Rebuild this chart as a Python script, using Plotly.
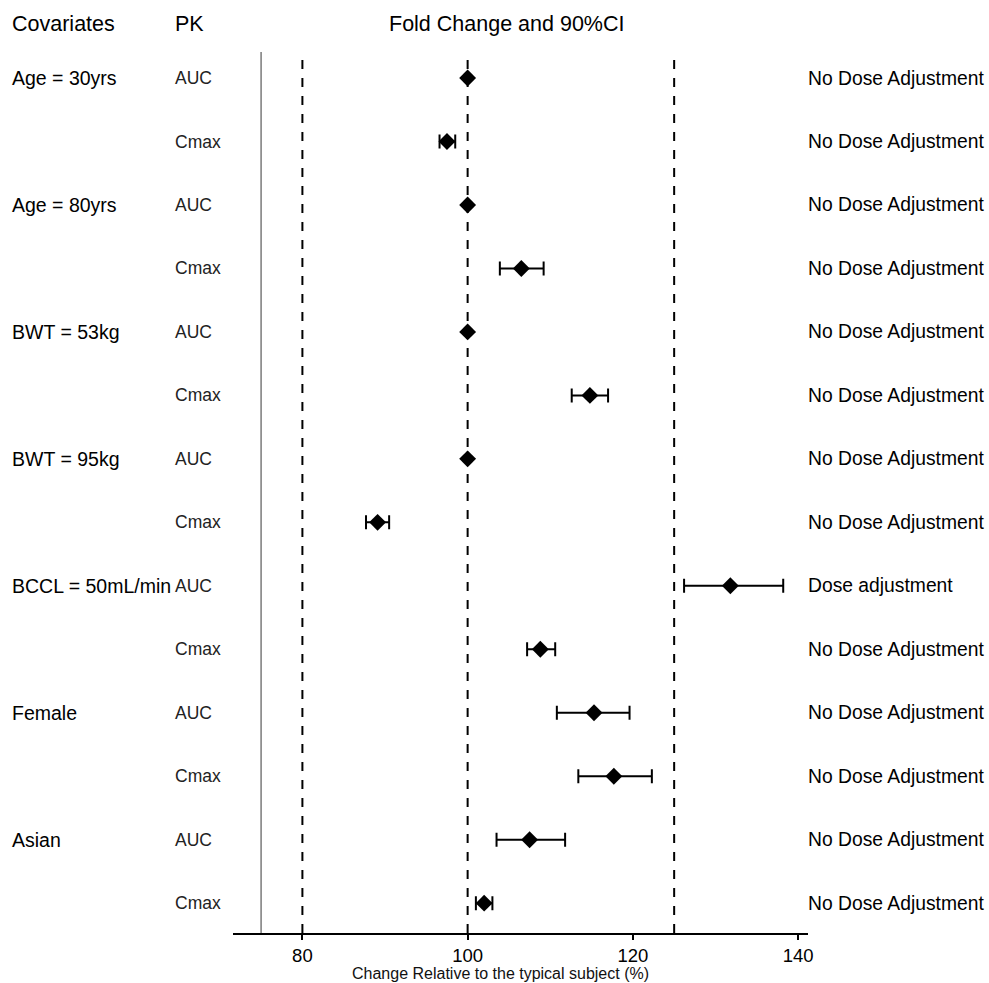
import plotly.graph_objects as go

# Forest plot of covariate effects on exposure (fold change with 90% CI)
covariates = ["Age = 30yrs", "Age = 80yrs", "BWT = 53kg", "BWT = 95kg",
              "BCCL = 50mL/min", "Female", "Asian"]
pk_params = ["AUC", "Cmax"]

fold_change = [100.0, 97.5, 100.0, 106.5, 100.0, 114.8, 100.0, 89.1,
               131.8, 108.8, 115.3, 117.7, 107.5, 102.0]
ci_lower = [100.0, 96.6, 100.0, 103.9, 100.0, 112.6, 100.0, 87.7,
            126.2, 107.2, 110.8, 113.4, 103.5, 101.0]
ci_upper = [100.0, 98.5, 100.0, 109.2, 100.0, 117.0, 100.0, 90.5,
            138.2, 110.6, 119.6, 122.3, 111.8, 103.0]
recommendation = ["No Dose Adjustment"] * 8 + ["Dose adjustment"] + ["No Dose Adjustment"] * 5

reference_lines = [80, 100, 125]
ref_xmin = 75
x_ticks = [80, 100, 120, 140]

FONT = "Liberation Sans, Arial, sans-serif"

rows = list(range(len(fold_change)))
err_plus = [u - f for u, f in zip(ci_upper, fold_change)]
err_minus = [f - l for f, l in zip(fold_change, ci_lower)]

fig = go.Figure()

fig.add_trace(go.Scatter(
    x=fold_change, y=rows, mode="markers",
    marker=dict(symbol="diamond", size=13, color="black"),
    error_x=dict(type="data", symmetric=False, array=err_plus, arrayminus=err_minus,
                 color="black", thickness=2, width=7),
    showlegend=False, hoverinfo="skip", cliponaxis=False,
))

shapes = []
# left boundary line
shapes.append(dict(type="line", xref="x", yref="paper", x0=ref_xmin, x1=ref_xmin,
                   y0=0, y1=1, line=dict(color="#7a7a7a", width=1.5)))
# dashed reference lines
for xv in reference_lines:
    shapes.append(dict(type="line", xref="x", yref="paper", x0=xv, x1=xv,
                       y0=0, y1=1, line=dict(color="black", width=2, dash="9px,9px")))

COV_X = -0.3878
PK_X = -0.1044
REC_X = -0.0035

annotations = []
# column headers
header_y = 1.032
annotations.append(dict(text="Covariates", xref="paper", yref="paper", x=COV_X, y=header_y,
                        xanchor="left", yanchor="middle", showarrow=False,
                        font=dict(size=21.5, color="black", family=FONT)))
annotations.append(dict(text="PK", xref="paper", yref="paper", x=PK_X, y=header_y,
                        xanchor="left", yanchor="middle", showarrow=False,
                        font=dict(size=21.5, color="black", family=FONT)))
annotations.append(dict(text="Fold Change and 90%CI", xref="paper", yref="paper", x=0.4765, y=header_y,
                        xanchor="center", yanchor="middle", showarrow=False,
                        font=dict(size=21.5, color="black", family=FONT)))

for i, r in enumerate(rows):
    if i % len(pk_params) == 0:
        annotations.append(dict(text=covariates[i // len(pk_params)], xref="paper", yref="y",
                                x=COV_X, y=r, xanchor="left", yanchor="middle", showarrow=False,
                                font=dict(size=19.5, color="black", family=FONT)))
    annotations.append(dict(text=pk_params[i % len(pk_params)], xref="paper", yref="y",
                            x=PK_X, y=r, xanchor="left", yanchor="middle", showarrow=False,
                            font=dict(size=17.5, color="#222222", family=FONT)))
    annotations.append(dict(text=recommendation[i], xref="paper", yref="y",
                            x=1.0 + REC_X, y=r, xanchor="left", yanchor="middle", showarrow=False,
                            font=dict(size=19.3, color="black", family=FONT)))

# axis title, kept just inside the bottom edge
annotations.append(dict(text="Change Relative to the typical subject (%)", xref="paper", yref="paper",
                        x=0.466, y=0.0, yshift=-40, xanchor="center", yanchor="middle", showarrow=False,
                        font=dict(size=16, color="#111111", family=FONT)))

fig.update_layout(
    width=989, height=983,
    margin=dict(l=233, r=181, t=52, b=50),
    paper_bgcolor="white", plot_bgcolor="white",
    shapes=shapes, annotations=annotations,
    xaxis=dict(range=[71.6, 141.2], tickvals=x_ticks, ticktext=[str(t) for t in x_ticks],
               showgrid=False, zeroline=False, showline=True, linecolor="black", linewidth=2,
               ticks="outside", ticklen=5, tickwidth=1.5, tickcolor="black",
               tickfont=dict(size=18.5, color="black", family=FONT)),
    yaxis=dict(range=[13.47, -0.41], visible=False, showgrid=False, zeroline=False),
    font=dict(family=FONT),
)

fig.write_html("out.html")
